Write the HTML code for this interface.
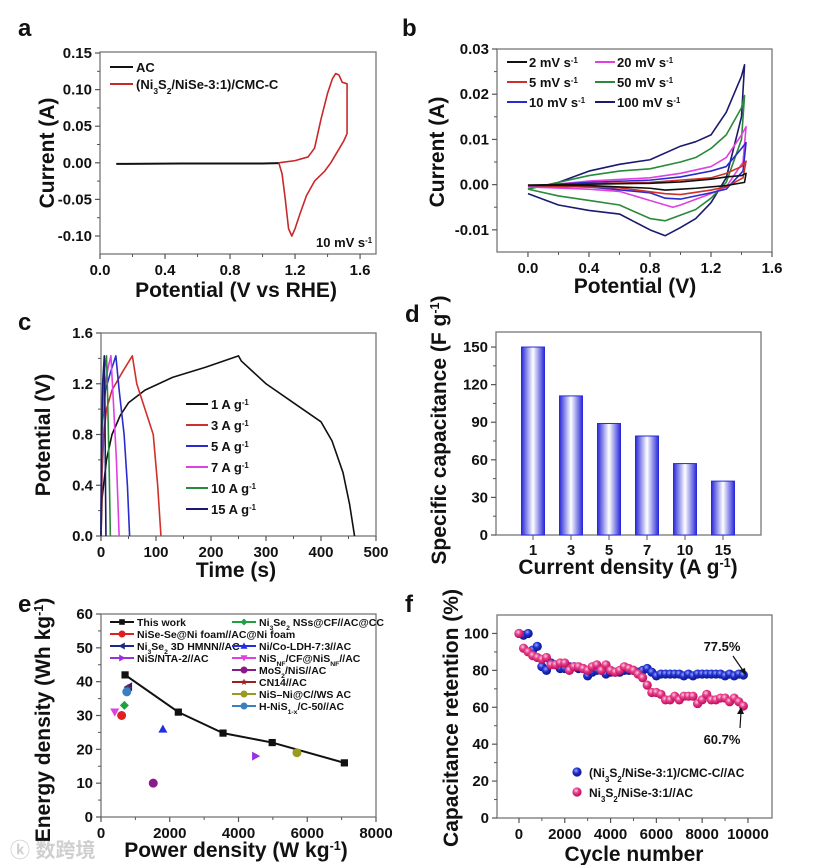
<!DOCTYPE html>
<html><head><meta charset="utf-8"><style>
html,body{margin:0;padding:0;background:#fff;}
svg{display:block;font-family:"Liberation Sans",Arial,sans-serif;font-weight:bold;}
</style></head><body>
<svg id="fig" width="828" height="865" viewBox="0 0 828 865" xmlns="http://www.w3.org/2000/svg">
<defs>
<linearGradient id="barGrad" x1="0" x2="1" y1="0" y2="0"><stop offset="0" stop-color="#2a2ad8"/><stop offset="0.5" stop-color="#ffffff"/><stop offset="1" stop-color="#2a2ad8"/></linearGradient>
<radialGradient id="blueDot" cx="0.4" cy="0.35" r="0.6"><stop offset="0" stop-color="#9aa6ff"/><stop offset="0.5" stop-color="#1f2fd0"/><stop offset="1" stop-color="#101a90"/></radialGradient>
<radialGradient id="pinkDot" cx="0.4" cy="0.35" r="0.6"><stop offset="0" stop-color="#ffd0e6"/><stop offset="0.45" stop-color="#e8428c"/><stop offset="1" stop-color="#c01060"/></radialGradient>
</defs>
<g><text x="10" y="857" font-size="20" fill="#cfcfcf" font-family="'Liberation Sans','Noto Sans CJK SC',sans-serif">ⓚ 数跨境</text></g>
</svg>
<script>
const NS='http://www.w3.org/2000/svg';
const svg=document.getElementById('fig');
function mk(tag,attrs,parent){const e=document.createElementNS(NS,tag);for(const k in attrs)e.setAttribute(k,attrs[k]);(parent||svg).appendChild(e);return e;}

// ---------- DATA ----------
// Panel a
const aACx=[0.1,0.5,1.0,1.1];
const aACy=[-0.0015,-0.001,-0.001,-0.0005];
const aRedX=[1.1,1.2,1.28,1.32,1.36,1.40,1.43,1.45,1.47,1.49,1.52,1.52,1.50,1.46,1.42,1.38,1.32,1.27,1.23,1.20,1.18,1.16,1.14,1.12,1.10];
const aRedY=[0.0,0.003,0.008,0.02,0.06,0.095,0.115,0.122,0.12,0.11,0.108,0.04,0.03,0.015,0.0,-0.012,-0.025,-0.045,-0.07,-0.09,-0.1,-0.09,-0.05,-0.015,0.0];
const aXTicks=[0,0.4,0.8,1.2,1.6];
const aXLabels=["0.0","0.4","0.8","1.2","1.6"];
const aYTicks=[-0.10,-0.05,0,0.05,0.10,0.15];
const aYLabels=["-0.10","-0.05","0.00","0.05","0.10","0.15"];
// Panel b
const bRates=["2","5","10","20","50","100"];
const bColors=["#111","#d0302a","#2a2ad0","#e040e0","#2a8a3a","#1a1a6e"];
const bX2=[0,0.4,0.8,1.0,1.2,1.3,1.4,1.43,1.42,1.3,1.1,1.0,0.9,0.8,0.4,0];
const bY2=[-0.0001,0.0001,0.0003,0.0006,0.0012,0.0017,0.002,0.0025,0.0005,-0.0002,-0.0008,-0.001,-0.0012,-0.0008,-0.0002,-0.0001];
const bX5=[0,0.4,0.8,1.0,1.2,1.3,1.4,1.43,1.41,1.3,1.2,1.0,0.9,0.6,0];
const bY5=[-0.0002,0.0002,0.0005,0.001,0.0015,0.0025,0.004,0.0052,0.0015,-0.0005,-0.0012,-0.0022,-0.002,-0.0007,-0.0002];
const bX10=[0,0.4,0.8,1.0,1.2,1.3,1.4,1.43,1.41,1.3,1.2,1.0,0.9,0.8,0.4,0];
const bY10=[-0.0003,0.0005,0.001,0.0017,0.003,0.004,0.008,0.0093,0.003,-0.001,-0.0018,-0.0032,-0.003,-0.0018,-0.0005,-0.0003];
const bX20=[0,0.4,0.8,1.0,1.2,1.3,1.4,1.43,1.41,1.3,1.2,1.0,0.95,0.8,0.6,0.4,0];
const bY20=[-0.0005,0.0008,0.0015,0.0025,0.004,0.006,0.011,0.0128,0.005,-0.0005,-0.002,-0.0045,-0.005,-0.0035,-0.0015,-0.001,-0.0005];
const bX50=[0,0.2,0.4,0.6,0.8,1.0,1.1,1.2,1.3,1.4,1.42,1.4,1.3,1.2,1.1,0.9,0.8,0.6,0.4,0.2,0];
const bY50=[-0.001,0.0005,0.002,0.003,0.0035,0.005,0.006,0.008,0.011,0.017,0.0197,0.01,0.0005,-0.003,-0.0055,-0.008,-0.0075,-0.0045,-0.0035,-0.0025,-0.001];
const bX100=[0,0.2,0.4,0.6,0.8,1.0,1.1,1.2,1.3,1.4,1.42,1.4,1.3,1.2,1.1,1.0,0.9,0.8,0.6,0.4,0.2,0];
const bY100=[-0.001,0.0005,0.003,0.0045,0.0055,0.0085,0.0095,0.011,0.016,0.024,0.0265,0.015,0.0015,-0.004,-0.0075,-0.0095,-0.0113,-0.010,-0.0065,-0.0057,-0.0045,-0.002];
const bXTicks=[0,0.4,0.8,1.2,1.6];
const bXLabels=["0.0","0.4","0.8","1.2","1.6"];
const bYTicks=[-0.01,0,0.01,0.02,0.03];
const bYLabels=["-0.01","0.00","0.01","0.02","0.03"];
// Panel c
const cLabels=["1","3","5","7","10","15"];
const cColors=["#111","#d0302a","#2a2ad0","#e040e0","#2a8a3a","#1a1a6e"];
const cT1=[0,2,10,20,35,50,80,130,190,250,255,300,350,400,420,440,452,461];
const cV1=[0.0,0.3,0.6,0.8,0.95,1.05,1.15,1.25,1.33,1.42,1.38,1.2,1.05,0.9,0.75,0.5,0.25,0.0];
const cT3=[0,2,5,10,20,40,57,65,80,95,103,109];
const cV3=[0.0,0.5,0.8,1.0,1.15,1.3,1.42,1.2,1.0,0.8,0.4,0.0];
const cT5=[0,1,3,8,18,27,33,42,48,52];
const cV5=[0.0,0.6,0.9,1.15,1.3,1.42,1.15,0.8,0.4,0.0];
const cT7=[0,1,3,8,13,18,22,28,33];
const cV7=[0.0,0.6,0.95,1.2,1.33,1.42,1.1,0.6,0.0];
const cT10=[0,1,3,6,10,12,15,17];
const cV10=[0.0,0.7,1.05,1.3,1.42,1.1,0.5,0.0];
const cT15=[0,1,3,6,7,8,9];
const cV15=[0.0,0.8,1.2,1.42,1.1,0.5,0.0];
const cXTicks=[0,100,200,300,400,500];
const cXLabels=["0","100","200","300","400","500"];
const cYTicks=[0,0.4,0.8,1.2,1.6];
const cYLabels=["0.0","0.4","0.8","1.2","1.6"];
// Panel d
const dCats=["1","3","5","7","10","15"];
const dVals=[150,111,89,79,57,43];
const dYTicks=[0,30,60,90,120,150];
const dYLabels=["0","30","60","90","120","150"];
// Panel e
const eWorkP=[700,2250,3550,4980,7080];
const eWorkE=[42,31,24.8,22,16];
const eP=[600,800,4500,680,1800,400,1520,780,5700,750];
const eE=[30,38.5,18,33,26,31,10,38,19,37];
const eColors=["#e02020","#1a2a8a","#9a30e0","#20a040","#2030e0","#e040e0","#8a1a8a","#a02020","#9a9a20","#3a80c0"];
const eShapes=["circle","ltri","rtri","diamond","utri","dtri","circle","star","circle","circle"];
const eXTicks=[0,2000,4000,6000,8000];
const eXLabels=["0","2000","4000","6000","8000"];
const eYTicks=[0,10,20,30,40,50,60];
const eYLabels=["0","10","20","30","40","50","60"];
// Panel f
const fCycles=[0,200,400,600,800,1000,1200,1400,1600,1800,2000,2200,2400,2600,2800,3000,3200,3400,3600,3800,4000,4200,4400,4600,4800,5000,5200,5400,5600,5800,6000,6200,6400,6600,6800,7000,7200,7400,7600,7800,8000,8200,8400,8600,8800,9000,9200,9400,9600,9800];
const fBlue=[100,99,100,91,93,82,80,84,83,81,81,82,82,81,81,77,79,80,80,78,79,79,79,80,80,80,79,80,81,79,77,78,78,78,78,78,77,78,77,78,78,78,78,78,78,77,78,77,78,77.5];
const fPink=[100,92,90,88,87,86,87,83,83,84,84,80,82,82,81,80,82,83,80,83,80,79,80,82,81,80,78,76,72,68,68,67,64,64,66,64,66,66,66,62,64,67,64,64,65,65,63,65,63,60.7];
const fXTicks=[0,2000,4000,6000,8000,10000];
const fXLabels=["0","2000","4000","6000","8000","10000"];
const fYTicks=[0,20,40,60,80,100];
const fYLabels=["0","20","40","60","80","100"];

// ---------- HELPERS ----------
function makeAxes(g,b){
  const sx=v=>b.x0+(v-b.xmin)/(b.xmax-b.xmin)*(b.x1-b.x0);
  const sy=v=>b.y1-(v-b.ymin)/(b.ymax-b.ymin)*(b.y1-b.y0);
  return {sx,sy};
}
function frame(g,b){
  const r=mk('rect',{x:b.x0,y:b.y0,width:b.x1-b.x0,height:b.y1-b.y0,fill:'none',stroke:'#777','stroke-width':1.3},g);
  
  
}
function xTicks(g,b,sx,ticks,labels,minor){
  ticks.forEach((t,i)=>{
    const x=sx(t);
    mk('line',{x1:x,x2:x,y1:b.y1,y2:b.y1+5,stroke:'#555','stroke-width':1.2},g);
    const tx=mk('text',{x:x,y:b.y1+21,'font-size':15,'text-anchor':'middle',fill:'#111'},g);
    tx.textContent=labels[i];
    
    
    if(minor&&i<ticks.length-1){const m=sx((t+ticks[i+1])/2);mk('line',{x1:m,x2:m,y1:b.y1,y2:b.y1+3,stroke:'#555'},g);}
  });
}
function yTicks(g,b,sy,ticks,labels,minor){
  ticks.forEach((t,i)=>{
    const y=sy(t);
    mk('line',{x1:b.x0,x2:b.x0-5,y1:y,y2:y,stroke:'#555','stroke-width':1.2},g);
    const tx=mk('text',{x:b.x0-8,y:y+5,'font-size':15,'text-anchor':'end',fill:'#111'},g);
    tx.textContent=labels[i];
    
    
    if(minor&&i<ticks.length-1){const m=sy((t+ticks[i+1])/2);mk('line',{x1:b.x0,x2:b.x0-3,y1:m,y2:m,stroke:'#555'},g);}
  });
}
function txt(g,x,y,s,size,anchor,rot,name){
  const t=mk('text',{x:x,y:y,'font-size':size,'text-anchor':anchor||'start',fill:'#111'},g);
  if(rot)t.setAttribute('transform','rotate(-90 '+x+' '+y+')');
  t.innerHTML=s;
  
  
  return t;
}
function poly(g,xs,ys,sx,sy,color,w,name){
  const p=mk('polyline',{points:xs.map((x,i)=>sx(x)+','+sy(ys[i])).join(' '),fill:'none',stroke:color,'stroke-width':w||1.6,'stroke-linejoin':'round'},g);
  
  
  return p;
}
function legLine(g,x1,x2,y,color){mk('line',{x1:x1,x2:x2,y1:y,y2:y,stroke:color,'stroke-width':2},g);}
function group(name){const g=mk('g',{});return g;}
const SUP=s=>'<tspan baseline-shift="super" font-size="0.6em">'+s+'</tspan>';
const SUB=s=>'<tspan baseline-shift="sub" font-size="0.65em">'+s+'</tspan>';

// ---------- PANEL A ----------
(function(){
  const g=group('panel-a');
  const b={x0:100,x1:376,y0:52,y1:254,xmin:0,xmax:1.698,ymin:-0.1246,ymax:0.1514};
  const {sx,sy}=makeAxes(g,b);
  frame(g,b);
  xTicks(g,b,sx,aXTicks,aXLabels,true);
  yTicks(g,b,sy,aYTicks,aYLabels,true);
  poly(g,aACx,aACy,sx,sy,'#111',2,'ac-curve');
  poly(g,aRedX,aRedY,sx,sy,'#c8282a',1.6,'composite-cv-curve');
  legLine(g,110,133,67,'#111');txt(g,136,72,'AC',13,'start',false,'legend-ac');
  legLine(g,110,133,84,'#c8282a');txt(g,136,89,'(Ni'+SUB('3')+'S'+SUB('2')+'/NiSe-3:1)/CMC-C',13,'start',false,'legend-composite');
  txt(g,316,247,'10 mV s'+SUP('-1'),13,'start',false,'scan-rate-note');
  txt(g,18,36,'a',24,'start',false,'panel-label-a');
  txt(g,236,297,'Potential (V vs RHE)',21,'middle',false,'x-axis-title');
  txt(g,54,153,'Current  (A)',21,'middle',true,'y-axis-title');
})();

// ---------- PANEL B ----------
(function(){
  const g=group('panel-b');
  const b={x0:497,x1:772,y0:49,y1:252,xmin:-0.203,xmax:1.6,ymin:-0.0149,ymax:0.03};
  const {sx,sy}=makeAxes(g,b);
  frame(g,b);
  xTicks(g,b,sx,bXTicks,bXLabels,true);
  yTicks(g,b,sy,bYTicks,bYLabels,true);
  const xs=[bX2,bX5,bX10,bX20,bX50,bX100], ys=[bY2,bY5,bY10,bY20,bY50,bY100];
  for(let i=5;i>=0;i--) poly(g,xs[i],ys[i],sx,sy,bColors[i],1.6,'cv-'+bRates[i]+'mv');
  const lx=[507,507,507,595,595,595], ly=[62,82,102,62,82,102];
  bRates.forEach((r,i)=>{legLine(g,lx[i],lx[i]+20,ly[i],bColors[i]);txt(g,lx[i]+22,ly[i]+5,r+' mV s'+SUP('-1'),13,'start',false,'legend-'+r+'mv');});
  txt(g,402,36,'b',24,'start',false,'panel-label-b');
  txt(g,635,293,'Potential (V)',21,'middle',false,'x-axis-title');
  txt(g,444,152,'Current  (A)',21,'middle',true,'y-axis-title');
})();

// ---------- PANEL C ----------
(function(){
  const g=group('panel-c');
  const b={x0:101,x1:376,y0:333,y1:536,xmin:0,xmax:500,ymin:0,ymax:1.6};
  const {sx,sy}=makeAxes(g,b);
  frame(g,b);
  xTicks(g,b,sx,cXTicks,cXLabels,true);
  yTicks(g,b,sy,cYTicks,cYLabels,true);
  const ts=[cT1,cT3,cT5,cT7,cT10,cT15], vs=[cV1,cV3,cV5,cV7,cV10,cV15];
  ts.forEach((t,i)=>poly(g,t,vs[i],sx,sy,cColors[i],1.6,'gcd-'+cLabels[i]+'ag'));
  cLabels.forEach((l,i)=>{const y=404+i*21;legLine(g,186,208,y,cColors[i]);txt(g,211,y+5,l+' A g'+SUP('-1'),13,'start',false,'legend-'+l+'ag');});
  txt(g,18,330,'c',24,'start',false,'panel-label-c');
  txt(g,236,577,'Time  (s)',21,'middle',false,'x-axis-title');
  txt(g,50,435,'Potential (V)',21,'middle',true,'y-axis-title');
})();

// ---------- PANEL D ----------
(function(){
  const g=group('panel-d');
  const b={x0:496,x1:761,y0:332,y1:535,xmin:0,xmax:1,ymin:0,ymax:162};
  const {sy}=makeAxes(g,b);
  const bx=i=>533+i*38;
  frame(g,b);
  yTicks(g,b,sy,dYTicks,dYLabels,true);
  dVals.forEach((v,i)=>{
    const r=mk('rect',{x:bx(i)-11.5,y:sy(v),width:23,height:sy(0)-sy(v),fill:'url(#barGrad)',stroke:'#2a2ad8','stroke-width':1},g);
    
    
    mk('line',{x1:bx(i),x2:bx(i),y1:b.y1,y2:b.y1+5,stroke:'#555'},g);
    txt(g,bx(i),b.y1+20,dCats[i],15,'middle',false,'x-tick-label');
  });
  txt(g,405,322,'d',24,'start',false,'panel-label-d');
  txt(g,628,574,'Current density (A g'+SUP('-1')+')',21,'middle',false,'x-axis-title');
  txt(g,446,430,'Specific capacitance (F g'+SUP('-1')+')',21,'middle',true,'y-axis-title');
})();

// ---------- PANEL E ----------
function marker(g,shape,x,y,c,s){
  s=s||4.5;let e;
  if(shape==='circle')e=mk('circle',{cx:x,cy:y,r:s,fill:c},g);
  else if(shape==='square')e=mk('rect',{x:x-s*0.8,y:y-s*0.8,width:s*1.6,height:s*1.6,fill:c},g);
  else{
    let pts;
    if(shape==='utri')pts=[[0,-s],[s,s*0.8],[-s,s*0.8]];
    else if(shape==='dtri')pts=[[0,s],[s,-s*0.8],[-s,-s*0.8]];
    else if(shape==='ltri')pts=[[-s,0],[s*0.8,-s],[s*0.8,s]];
    else if(shape==='rtri')pts=[[s,0],[-s*0.8,-s],[-s*0.8,s]];
    else if(shape==='diamond')pts=[[0,-s],[s,0],[0,s],[-s,0]];
    else {pts=[];for(let k=0;k<10;k++){const a=-Math.PI/2+k*Math.PI/5,r=k%2?s*0.45:s;pts.push([r*Math.cos(a),r*Math.sin(a)]);}}
    e=mk('polygon',{points:pts.map(p=>(x+p[0])+','+(y+p[1])).join(' '),fill:c},g);
  }
  return e;
}
(function(){
  const g=group('panel-e');
  const b={x0:101,x1:376,y0:614,y1:817,xmin:0,xmax:8000,ymin:0,ymax:60};
  const {sx,sy}=makeAxes(g,b);
  frame(g,b);
  xTicks(g,b,sx,eXTicks,eXLabels,true);
  yTicks(g,b,sy,eYTicks,eYLabels,true);
  poly(g,eWorkP,eWorkE,sx,sy,'#111',2,'this-work-line');
  eWorkP.forEach((p,i)=>{const m=marker(g,'square',sx(p),sy(eWorkE[i]),'#111',4.5);
    
    });
  eP.forEach((p,i)=>{const m=marker(g,eShapes[i],sx(p),sy(eE[i]),eColors[i],4.5);
    
    });
  const lab=["NiSe-Se@Ni foam//AC@Ni foam","Ni"+SUB('3')+"Se"+SUB('2')+" 3D HMNN//AC","NiS/NTA-2//AC","Ni"+SUB('3')+"Se"+SUB('2')+" NSs@CF//AC@CC","Ni/Co-LDH-7:3//AC","NiS"+SUB('NF')+"/CF@NiS"+SUB('NF')+"//AC","MoS"+SUB('2')+"/NiS//AC","CN14//AC","NiS–Ni@C//WS AC","H-NiS"+SUB('1-x')+"/C-50//AC"];
  const ry=[622,634,646,658,670,682,694,706];
  const entries=[[110,0,'This work','#111','square'],[110,1,lab[0],eColors[0],eShapes[0]],[110,2,lab[1],eColors[1],eShapes[1]],[110,3,lab[2],eColors[2],eShapes[2]],
    [232,0,lab[3],eColors[3],eShapes[3]],[232,2,lab[4],eColors[4],eShapes[4]],[232,3,lab[5],eColors[5],eShapes[5]],[232,4,lab[6],eColors[6],eShapes[6]],[232,5,lab[7],eColors[7],eShapes[7]],[232,6,lab[8],eColors[8],eShapes[8]],[232,7,lab[9],eColors[9],eShapes[9]]];
  entries.forEach(en=>{const y=ry[en[1]];legLine(g,en[0],en[0]+24,y,en[3]);marker(g,en[4],en[0]+12,y,en[3],3.5);txt(g,en[0]+27,y+4,en[2],10.5,'start',false,'legend-entry');});
  txt(g,18,612,'e',24,'start',false,'panel-label-e');
  txt(g,236,857,'Power density (W kg'+SUP('-1')+')',21,'middle',false,'x-axis-title');
  txt(g,50,720,'Energy density (Wh kg'+SUP('-1')+')',21,'middle',true,'y-axis-title');
})();

// ---------- PANEL F ----------
(function(){
  const g=group('panel-f');
  const b={x0:497,x1:772,y0:615,y1:818,xmin:-960,xmax:11050,ymin:0,ymax:110};
  const {sx,sy}=makeAxes(g,b);
  frame(g,b);
  xTicks(g,b,sx,fXTicks,fXLabels,true);
  yTicks(g,b,sy,fYTicks,fYLabels,true);
  fCycles.forEach((c,i)=>{const m=mk('circle',{cx:sx(c),cy:sy(fBlue[i]),r:4.6,fill:'url(#blueDot)'},g);
    
    });
  fCycles.forEach((c,i)=>{const m=mk('circle',{cx:sx(c),cy:sy(fPink[i]),r:4.6,fill:'url(#pinkDot)'},g);
    
    });
  txt(g,722,651,'77.5%',13,'middle',false,'label-77-5');
  mk('line',{x1:733,x2:744,y1:656,y2:672,stroke:'#111','stroke-width':1.2},g);
  mk('polygon',{points:'746,676 740,670 745,668',fill:'#111'},g);
  txt(g,722,744,'60.7%',13,'middle',false,'label-60-7');
  mk('line',{x1:740,x2:741,y1:728,y2:712,stroke:'#111','stroke-width':1.2},g);
  mk('polygon',{points:'741,707 737,714 744,714',fill:'#111'},g);
  mk('circle',{cx:577,cy:772,r:4.6,fill:'url(#blueDot)'},g);
  txt(g,589,777,'(Ni'+SUB('3')+'S'+SUB('2')+'/NiSe-3:1)/CMC-C//AC',12,'start',false,'legend-composite');
  mk('circle',{cx:577,cy:792,r:4.6,fill:'url(#pinkDot)'},g);
  txt(g,589,797,'Ni'+SUB('3')+'S'+SUB('2')+'/NiSe-3:1//AC',12,'start',false,'legend-bare');
  txt(g,405,612,'f',24,'start',false,'panel-label-f');
  txt(g,634,861,'Cycle number',21,'middle',false,'x-axis-title');
  txt(g,458,718,'Capacitance retention (%)',21,'middle',true,'y-axis-title');
})();
</script>
</body></html>
